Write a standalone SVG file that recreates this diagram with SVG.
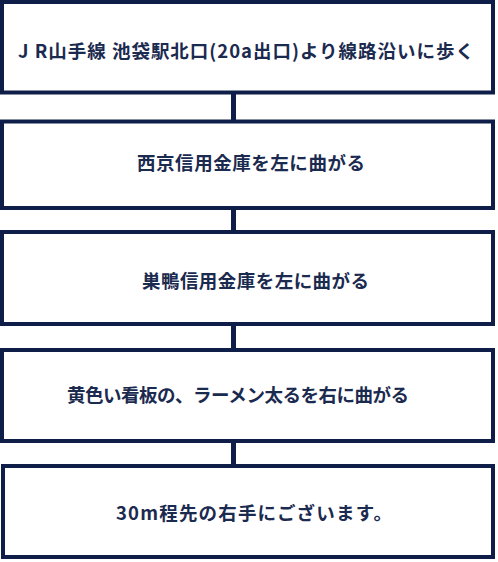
<svg xmlns="http://www.w3.org/2000/svg" width="498" height="562" viewBox="0 0 498 562">
<style>
.box{fill:#ffffff;stroke:#0f1e48;stroke-width:4}
.lbl{font-family:"Noto Sans CJK JP","Noto Sans",sans-serif;font-weight:bold;font-size:18.5px;fill:#1b2a4f}
.conn{stroke:#0f1e48;stroke-width:5;fill:none}
</style>
<rect x="0" y="0" width="498" height="562" fill="#ffffff"/>
<g id="connectors">
<line class="conn" x1="233.5" y1="92" x2="233.5" y2="122"/>
<line class="conn" x1="233.5" y1="208" x2="233.5" y2="232"/>
<line class="conn" x1="233.5" y1="324" x2="233.5" y2="350"/>
<line class="conn" x1="233.5" y1="441" x2="233.5" y2="466"/>
</g>
<g id="node1">
<rect class="box" x="2" y="2" width="491" height="90.5"/>
<text class="lbl" x="18" y="57.5" textLength="456" lengthAdjust="spacing">J R山手線 池袋駅北口(20a出口)より線路沿いに歩く</text>
</g>
<g id="node2">
<rect class="box" x="2" y="121.5" width="491" height="86.5"/>
<text class="lbl" x="137" y="170" textLength="228" lengthAdjust="spacing">西京信用金庫を左に曲がる</text>
</g>
<g id="node3">
<rect class="box" x="2" y="232" width="491" height="92"/>
<text class="lbl" x="142" y="288" textLength="227" lengthAdjust="spacing">巣鴨信用金庫を左に曲がる</text>
</g>
<g id="node4">
<rect class="box" x="2" y="350" width="491" height="91"/>
<text class="lbl" x="67" y="402" textLength="342" lengthAdjust="spacing">黄色い看板の、ラーメン太るを右に曲がる</text>
</g>
<g id="node5">
<rect class="box" x="3" y="466" width="490" height="91"/>
<text class="lbl" x="116" y="520" textLength="276" lengthAdjust="spacing">30m程先の右手にございます。</text>
</g>
</svg>
